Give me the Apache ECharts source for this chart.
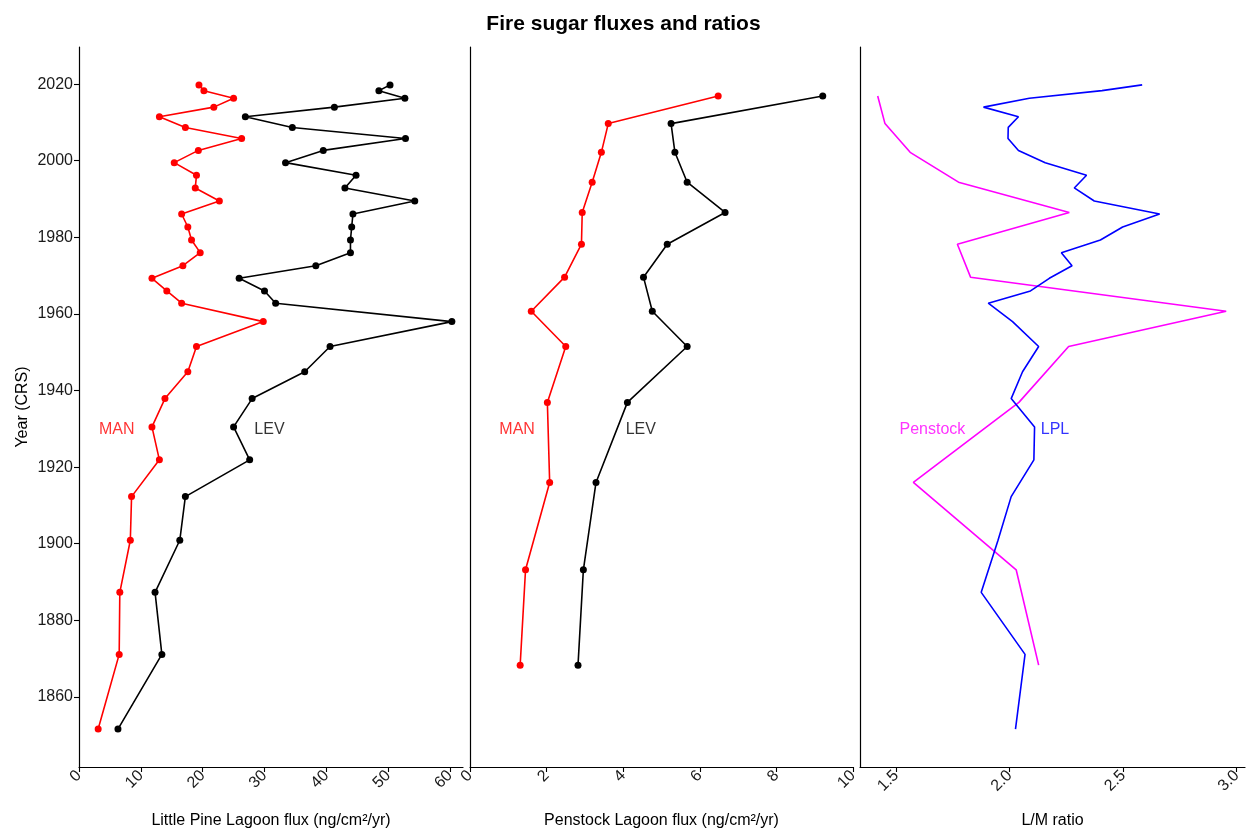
<!DOCTYPE html>
<html>
<head>
<meta charset="utf-8">
<script src="https://cdn.jsdelivr.net/npm/echarts@6/dist/echarts.min.js"></script>
<style>
  html, body { margin: 0; padding: 0; background: #fff; }
  #chart { width: 1247px; height: 831px; }
</style>
</head>
<body>
<div id="chart"></div>
<script>
// Little Pine Lagoon (LPL) samples
const lplYears = [2019.8, 2018.3, 2016.3, 2014.0, 2011.5, 2008.7, 2005.8, 2002.7, 1999.5, 1996.2, 1992.9, 1989.5, 1986.1, 1982.7, 1979.3, 1976.0, 1972.6, 1969.3, 1966.0, 1962.8, 1958.0, 1951.5, 1944.9, 1937.9, 1930.5, 1921.9, 1912.3, 1900.9, 1887.3, 1871.1, 1851.6];
const lplMan = [19.4, 20.2, 25.0, 21.8, 13.0, 17.2, 26.3, 19.3, 15.4, 19.0, 18.8, 22.7, 16.6, 17.6, 18.2, 19.6, 16.8, 11.8, 14.2, 16.6, 29.8, 19.0, 17.6, 13.9, 11.8, 13.0, 8.5, 8.3, 6.6, 6.5, 3.1];
const lplLev = [50.3, 48.5, 52.7, 41.3, 26.9, 34.5, 52.8, 39.5, 33.4, 44.8, 43.0, 54.3, 44.3, 44.1, 43.9, 43.9, 38.3, 25.9, 30.0, 31.8, 60.3, 40.6, 36.5, 28.0, 25.0, 27.6, 17.2, 16.3, 12.3, 13.4, 6.3];
const lplRatio = [2.584, 2.407, 2.087, 1.885, 2.039, 1.994, 1.993, 2.039, 2.157, 2.339, 2.285, 2.373, 2.661, 2.498, 2.400, 2.228, 2.275, 2.175, 2.092, 1.906, 2.013, 2.128, 2.057, 2.007, 2.110, 2.107, 2.007, 1.949, 1.875, 2.068, 2.026];

// Penstock Lagoon samples
const penYears = [2016.9, 2009.7, 2002.2, 1994.4, 1986.5, 1978.2, 1969.6, 1960.7, 1951.5, 1936.9, 1916.0, 1893.2, 1868.3];
const penMan = [6.48, 3.61, 3.43, 3.19, 2.93, 2.91, 2.47, 1.60, 2.50, 2.02, 2.08, 1.45, 1.31];
const penLev = [9.21, 5.25, 5.35, 5.67, 6.66, 5.15, 4.53, 4.76, 5.67, 4.11, 3.29, 2.96, 2.82];
const penRatio = [1.419, 1.451, 1.562, 1.775, 2.263, 1.770, 1.828, 2.954, 2.260, 2.041, 1.576, 2.029, 2.128];

// Axis ticks
const yearTicks = [1860, 1880, 1900, 1920, 1940, 1960, 1980, 2000, 2020];
const lplTicks = [0, 10, 20, 30, 40, 50, 60];
const penTicks = [0, 2, 4, 6, 8, 10];
const ratioTicks = [1.5, 2.0, 2.5, 3.0];

// Annotation labels (text, x value, year)
const labelYear = 1929.9;
const panel1Labels = [['MAN', 6.1, '#ff0000'], ['LEV', 30.8, '#000000']];
const panel2Labels = [['MAN', 1.23, '#ff0000'], ['LEV', 4.46, '#000000']];
const panel3Labels = [['Penstock', 1.66, '#ff00ff'], ['LPL', 2.2, '#0000ff']];

const zip = (xs, ys) => xs.map((x, i) => [x, ys[i]]);

const FONT = 'Liberation Sans, Arial, sans-serif';
const tickLabelColor = '#1a1a1a';

const grids = [
  { left: 79, top: 47, width: 384, height: 720, outerBoundsMode: 'none', containLabel: false },
  { left: 470, top: 47, width: 383, height: 720, outerBoundsMode: 'none', containLabel: false },
  { left: 860, top: 47, width: 385, height: 720, outerBoundsMode: 'none', containLabel: false }
];

function xAxis(idx, min, max, ticks, name, fmt) {
  return {
    type: 'value', gridIndex: idx, min: min, max: max,
    name: name, nameLocation: 'middle', nameGap: 46,
    nameTextStyle: { fontFamily: FONT, fontSize: 16, color: '#000' },
    axisLine: { show: true, onZero: false, lineStyle: { color: '#000', width: 1.2 } },
    axisTick: { show: true, length: 5, lineStyle: { color: '#000', width: 1.1 }, customValues: ticks },
    axisLabel: { show: true, rotate: 45, fontFamily: FONT, fontSize: 16, color: tickLabelColor, margin: 6,
                 customValues: ticks, formatter: fmt || (v => String(v)) },
    splitLine: { show: false }
  };
}

function yAxis(idx, showLabels) {
  return {
    type: 'value', gridIndex: idx, min: 1841.7, max: 2029.7,
    name: showLabels ? 'Year (CRS)' : '', nameLocation: 'middle', nameGap: 48, nameRotate: 90,
    nameTextStyle: { fontFamily: FONT, fontSize: 16, color: '#000' },
    axisLine: { show: true, onZero: false, lineStyle: { color: '#000', width: 1.2 } },
    axisTick: { show: showLabels, length: 5, lineStyle: { color: '#000', width: 1.1 }, customValues: yearTicks },
    axisLabel: { show: showLabels, fontFamily: FONT, fontSize: 16, color: tickLabelColor, margin: 6,
                 customValues: yearTicks, formatter: v => String(Math.round(v)) },
    splitLine: { show: false }
  };
}

function lineSeries(idx, data, color, withSymbols) {
  return {
    type: 'line', xAxisIndex: idx, yAxisIndex: idx, data: data,
    showSymbol: withSymbols, symbol: 'circle', symbolSize: withSymbols ? 7 : 0,
    lineStyle: { color: color, width: 1.6 }, itemStyle: { color: color },
    silent: true, animation: false, z: 3
  };
}

function labelSeries(idx, labels) {
  return labels.map(l => ({
    type: 'scatter', xAxisIndex: idx, yAxisIndex: idx,
    data: [[l[1], labelYear]], symbolSize: 0, silent: true, animation: false,
    label: { show: true, position: 'inside', formatter: l[0], color: l[2],
             fontFamily: FONT, fontSize: 16 }
  }));
}

const option = {
  backgroundColor: '#fff',
  animation: false,
  title: {
    text: 'Fire sugar fluxes and ratios', left: 'center', top: 9,
    textStyle: { fontFamily: FONT, fontSize: 21, fontWeight: 'bold', color: '#000' }
  },
  grid: grids,
  xAxis: [
    xAxis(0, 0, 62.1, lplTicks, 'Little Pine Lagoon flux (ng/cm²/yr)'),
    xAxis(1, 0, 10, penTicks, 'Penstock Lagoon flux (ng/cm²/yr)'),
    xAxis(2, 1.341, 3.037, ratioTicks, 'L/M ratio', v => v.toFixed(1))
  ],
  yAxis: [yAxis(0, true), yAxis(1, false), yAxis(2, false)],
  series: [
    lineSeries(0, zip(lplMan, lplYears), '#ff0000', true),
    lineSeries(0, zip(lplLev, lplYears), '#000000', true),
    lineSeries(1, zip(penMan, penYears), '#ff0000', true),
    lineSeries(1, zip(penLev, penYears), '#000000', true),
    lineSeries(2, zip(penRatio, penYears), '#ff00ff', false),
    lineSeries(2, zip(lplRatio, lplYears), '#0000ff', false),
    ...labelSeries(0, panel1Labels),
    ...labelSeries(1, panel2Labels),
    ...labelSeries(2, panel3Labels)
  ]
};

const chart = echarts.init(document.getElementById('chart'), null, { renderer: 'canvas' });
chart.setOption(option);
</script>
</body>
</html>
